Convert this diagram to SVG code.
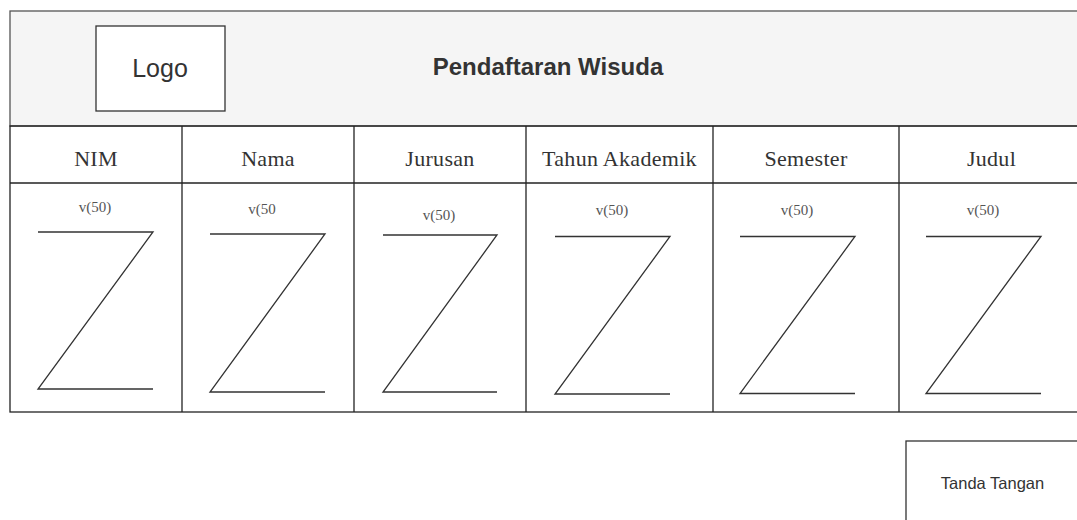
<svg xmlns="http://www.w3.org/2000/svg" width="1077" height="520" viewBox="0 0 1077 520">
<style>
.box{fill:#ffffff;stroke:#333333;stroke-width:1.3}
.hdr{fill:#f5f5f5;stroke:#555555;stroke-width:1.3}
.grid{stroke:#222222;stroke-width:1.3;fill:none}
.z{stroke:#333333;stroke-width:1.3;fill:none}
.sans{font-family:"Liberation Sans",Arial,sans-serif;fill:#333333;text-anchor:middle}
.serif{font-family:"Liberation Serif","Times New Roman",serif;fill:#333333;text-anchor:middle;font-size:22px;letter-spacing:0.3px}
.v{font-family:"Liberation Serif","Times New Roman",serif;fill:#555555;text-anchor:middle;font-size:15px}
</style>
<rect width="1077" height="520" fill="#ffffff"/>
<g id="header">
<rect class="hdr" x="10" y="11" width="1076" height="115"/>
<text class="sans" x="548" y="75" font-size="24" font-weight="bold">Pendaftaran Wisuda</text>
</g>
<g id="logo">
<rect class="box" x="96" y="26" width="129" height="85"/>
<text class="sans" x="160" y="77" font-size="25">Logo</text>
</g>
<g id="table">
<rect class="grid" x="10" y="126" width="1076" height="286" fill="#ffffff"/>
<line class="grid" x1="10" y1="183" x2="1086" y2="183"/>
<line class="grid" x1="182" y1="126" x2="182" y2="412"/>
<line class="grid" x1="354" y1="126" x2="354" y2="412"/>
<line class="grid" x1="526" y1="126" x2="526" y2="412"/>
<line class="grid" x1="713" y1="126" x2="713" y2="412"/>
<line class="grid" x1="899" y1="126" x2="899" y2="412"/>
</g>
<g id="col-nim">
<text class="serif" x="96" y="165.5">NIM</text>
<text class="v" x="95" y="212">v(50)</text>
<polyline class="z" points="38,232 153,232 38,389 153,389"/>
</g>
<g id="col-nama">
<text class="serif" x="268" y="165.5">Nama</text>
<text class="v" x="262" y="214">v(50</text>
<polyline class="z" points="210,234 325,234 210,392 325,392"/>
</g>
<g id="col-jurusan">
<text class="serif" x="440" y="165.5">Jurusan</text>
<text class="v" x="439" y="220">v(50)</text>
<polyline class="z" points="383,235 497,235 383,392 497,392"/>
</g>
<g id="col-tahun">
<text class="serif" x="619.5" y="165.5">Tahun Akademik</text>
<text class="v" x="612" y="215">v(50)</text>
<polyline class="z" points="555,236.5 670,236.5 555,394 670,394"/>
</g>
<g id="col-semester">
<text class="serif" x="806" y="165.5">Semester</text>
<text class="v" x="797" y="215">v(50)</text>
<polyline class="z" points="740,236.5 855,236.5 740,393.5 855,393.5"/>
</g>
<g id="col-judul">
<text class="serif" x="991.5" y="165.5">Judul</text>
<text class="v" x="983" y="215">v(50)</text>
<polyline class="z" points="926,236.5 1041,236.5 926,393.5 1041,393.5"/>
</g>
<g id="tanda-tangan">
<rect class="box" x="906" y="441" width="200" height="100"/>
<text class="sans" x="992.5" y="489" font-size="16.5">Tanda Tangan</text>
</g>
<g id="connectors"></g>
</svg>
